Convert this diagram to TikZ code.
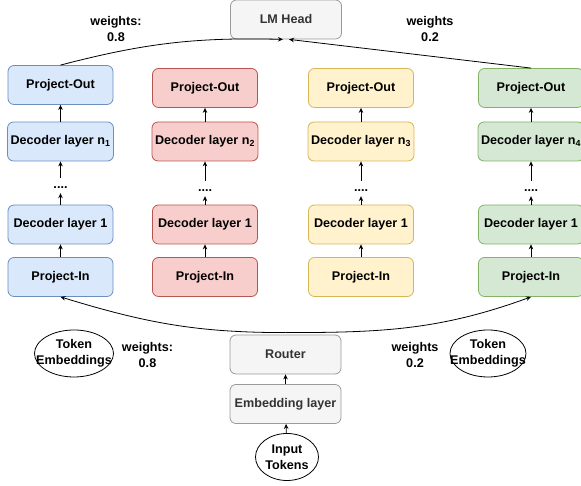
\documentclass[tikz,border=0pt]{standalone}
\usepackage{fontspec}
\setmainfont{Liberation Sans}
\usetikzlibrary{positioning,shapes.geometric,arrows.meta}

\definecolor{blueF}{HTML}{DAE8FC}\definecolor{blueD}{HTML}{6C8EBF}
\definecolor{redF}{HTML}{F8CECC}\definecolor{redD}{HTML}{B85450}
\definecolor{yelF}{HTML}{FFF2CC}\definecolor{yelD}{HTML}{D6B656}
\definecolor{grnF}{HTML}{D5E8D4}\definecolor{grnD}{HTML}{82B366}
\definecolor{greyF}{HTML}{F5F5F5}\definecolor{greyD}{HTML}{9A9A9A}\definecolor{greyT}{HTML}{333333}

\tikzset{
	txt/.style={font=\bfseries\fontsize{12.6}{16}\selectfont},
	blk/.style={txt, draw, rounded corners=6pt, minimum width=105pt, minimum height=39pt, inner xsep=3pt, line width=0.8pt},
	greyblk/.style={blk, fill=greyF, draw=greyD, text=greyT, minimum width=111pt},
	dots/.style={txt, text height=9pt, text depth=2pt, inner sep=2pt},
	tok/.style={txt, ellipse, draw, inner sep=0pt, line width=0.8pt, align=center},
	lbl/.style={txt, align=center},
	arr/.style={-{Stealth[length=5pt,width=4.5pt]}, line width=0.8pt}
}

\begin{document}
\begin{tikzpicture}[x=1pt,y=1pt]
		\useasboundingbox (0,0) rectangle (581,486);
		
		% four expert stacks
		\foreach \x/\f/\d/\n/\o in {60.5/blueF/blueD/1/3, 205/redF/redD/2/0, 361/yelF/yelD/3/0, 531/grnF/grnD/4/0}{
			\node[blk, fill=\f, draw=\d] (PI\n) at (\x,209) {Project-In};
			\node[blk, fill=\f, draw=\d] (DL\n) at (\x,261.5) {Decoder layer 1};
			\node[dots] (DT\n) at (\x,297.5+\o) {....};
			\node[blk, fill=\f, draw=\d] (DN\n) at (\x,344.5) {Decoder layer n$_{\mathbf{\n}}$};
			\node[blk, fill=\f, draw=\d] (PO\n) at (\x,398+\o) {Project-Out};
			\draw[arr] (PI\n) -- (DL\n);
			\draw[arr] (DL\n) -- (DT\n);
			\draw[arr] (DT\n) -- (DN\n);
			\draw[arr] (DN\n) -- (PO\n);
		}
		
		\node[greyblk] (LM) at (286,466.5) {LM Head};
		\node[greyblk] (RT) at (285.5,131.5) {Router};
		\node[greyblk] (EL) at (285.5,82) {Embedding layer};
		\node[tok, minimum width=63pt, minimum height=47pt] (IT) at (287,29) {Input\\Tokens};
		
		\node[tok, minimum width=79pt, minimum height=47pt] (TE1) at (74,132.5) {Token\\\makebox[40pt]{Embeddings}};
		\node[tok, minimum width=76pt, minimum height=47pt] (TE2) at (488,132.5) {Token\\\makebox[40pt]{Embeddings}};
		
		\node[lbl] (W1) at (116,456.5) {weights:\\0.8};
		\node[lbl] (W2) at (430,456.5) {weights\\0.2};
		\node[lbl] (W3) at (147.5,131) {weights:\\0.8};
		\node[lbl] (W4) at (415,131) {weights\\0.2};
		
		\draw[arr] (IT) -- (EL);
		\draw[arr] (EL) -- (RT);
		\draw[arr] ([yshift=2pt]RT.north) to[out=180,in=-17] (PI1.south);
		\draw[arr] ([yshift=2pt]RT.north) to[out=0,in=200] (PI4.south);
		\draw[arr] (PO1.north) to[bend left=8] ([xshift=-3pt]LM.south);
		\draw[arr] (PO4.north) -- ([xshift=3pt]LM.south);
		
		\end{tikzpicture}
\end{document}
